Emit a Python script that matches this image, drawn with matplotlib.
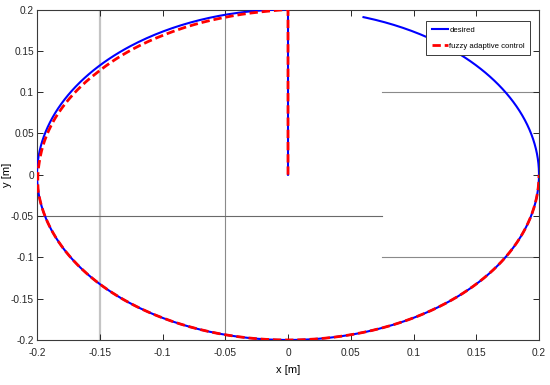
import numpy as np
import matplotlib
matplotlib.use("Agg")
import matplotlib.pyplot as plt
from matplotlib import font_manager

# ---- data ----
radius = 0.2
# desired path: start point (0,0), vertical rise to (0,0.2), then arc (angles in degrees) ending at ~72.5 deg
desired_arc_start_deg = 90.0
desired_arc_end_deg = 432.5
# fuzzy adaptive control: same start, arc from 90 deg to 360 deg, with radial deviation
fuzzy_arc_start_deg = 90.0
fuzzy_arc_end_deg = 360.0
fuzzy_dev_angles = [90, 95, 105, 120, 140, 160, 175, 186, 360]
fuzzy_dev_values = [0.0, -0.0015, -0.003, -0.004, -0.004, -0.0022, -0.0013, 0.0, 0.0]

xticks = [-0.2, -0.15, -0.1, -0.05, 0, 0.05, 0.1, 0.15, 0.2]
yticks = [-0.2, -0.15, -0.1, -0.05, 0, 0.05, 0.1, 0.15, 0.2]
xticklabels = ["-0.2", "-0.15", "-0.1", "-0.05", "0", "0.05", "0.1", "0.15", "0.2"]
yticklabels = ["-0.2", "-0.15", "-0.1", "-0.05", "0", "0.05", "0.1", "0.15", "0.2"]

# ---- font ----
names = {f.name for f in font_manager.fontManager.ttflist}
fam = ["Liberation Sans Narrow", "Liberation Sans", "DejaVu Sans"]
fam = [f for f in fam if f in names] + ["DejaVu Sans"]
plt.rcParams['font.family'] = fam

fig = plt.figure(figsize=(5.5, 3.85), dpi=100)
ax = fig.add_axes([0.0673, 0.1169, 0.9127, 0.8584])

# desired
th = np.deg2rad(np.linspace(desired_arc_start_deg, desired_arc_end_deg, 600))
dx = np.concatenate([[0, 0], radius * np.cos(th)])
dy = np.concatenate([[0, radius], radius * np.sin(th)])

# fuzzy
thd = np.linspace(fuzzy_arc_start_deg, fuzzy_arc_end_deg, 600)
rr = radius + np.interp(thd, fuzzy_dev_angles, fuzzy_dev_values)
th2 = np.deg2rad(thd)
fx = np.concatenate([[0, 0], rr * np.cos(th2)])
fy = np.concatenate([[0, radius], rr * np.sin(th2)])

# partial grid lines as in the reference
ax.plot([-0.15, -0.15], [-0.2, 0.2], color="#c4c4c4", lw=1.6, zorder=1)
ax.plot([-0.05, -0.05], [-0.2, 0.2], color="#8a8a8a", lw=0.8, zorder=1)
ax.plot([0.075, 0.2], [0.1, 0.1], color="#8a8a8a", lw=0.8, zorder=1)
ax.plot([-0.2, 0.075], [-0.05, -0.05], color="#6a6a6a", lw=0.8, zorder=1)
ax.plot([0.075, 0.2], [-0.1, -0.1], color="#8a8a8a", lw=0.8, zorder=1)

ax.plot(dx, dy, color="#0000ff", lw=1.5, label="desired", zorder=3)
ax.plot(fx, fy, color="#ff0000", lw=2.0, ls=(0, (3.0, 1.4)), label="fuzzy adaptive control", zorder=4)

ax.set_xlim(-0.2, 0.2)
ax.set_ylim(-0.2, 0.2)
ax.set_xticks(xticks)
ax.set_xticklabels(xticklabels)
ax.set_yticks(yticks)
ax.set_yticklabels(yticklabels)
ax.tick_params(direction="in", top=True, right=True, length=4, width=0.7, colors="#262626", labelsize=7.3)
ax.tick_params(axis="x", pad=5.5)
ax.tick_params(axis="y", pad=2.2)
for s in ax.spines.values():
    s.set_color("#3a3a3a")
    s.set_linewidth(0.8)

ax.set_xlabel("x [m]", fontsize=8, labelpad=5)
ax.set_ylabel("y [m]", fontsize=8)
ax.yaxis.set_label_coords(-0.05, 0.5)

leg = ax.legend(loc="upper right", bbox_to_anchor=(0.983, 0.965), fontsize=5.6, frameon=True, fancybox=False,
                edgecolor="#3a3a3a", framealpha=1, handlelength=2.1, borderpad=0.7, labelspacing=1.1,
                handletextpad=0.2, borderaxespad=0)
leg.get_frame().set_linewidth(0.7)

fig.savefig("out.png", dpi=100)
